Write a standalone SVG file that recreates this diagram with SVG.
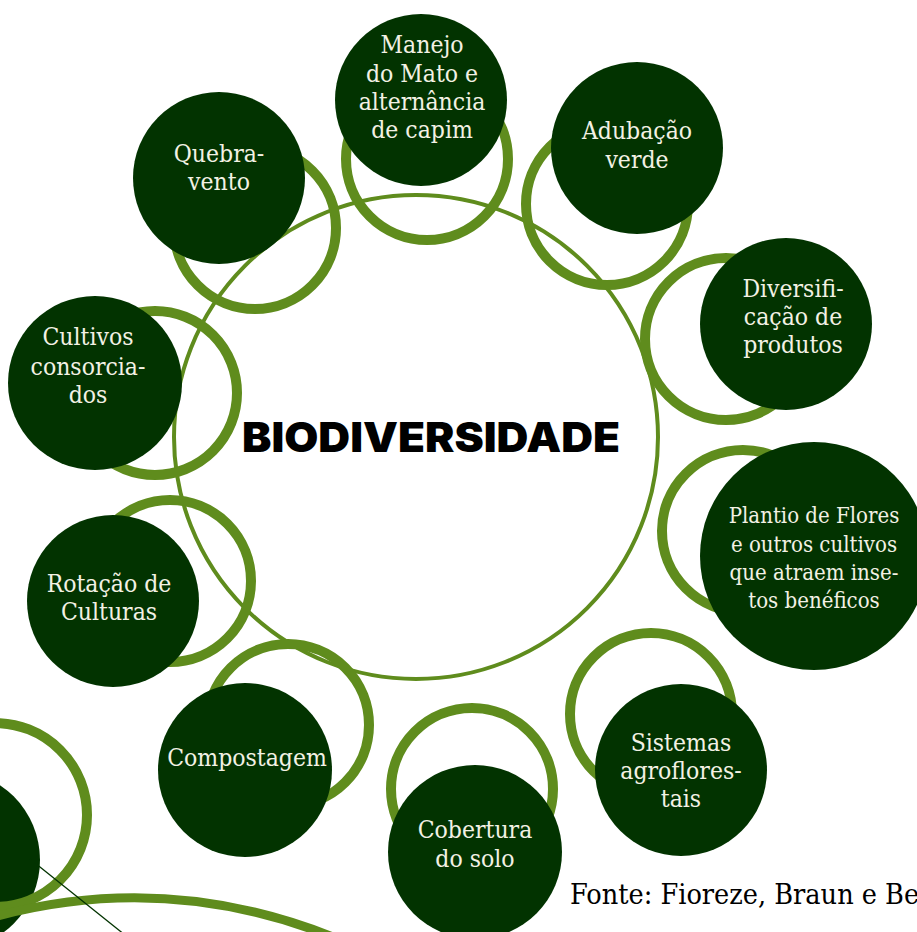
<svg xmlns="http://www.w3.org/2000/svg" width="917" height="932" viewBox="0 0 917 932">
<style>
.ring{fill:none;stroke:#5f8c1d;stroke-width:10}
.dot{fill:#023300}
.lbl{fill:#f3f1e4;font-family:"DejaVu Serif Condensed","DejaVu Serif",serif;font-stretch:condensed;font-size:24.5px;text-anchor:middle}
.sm{font-size:22px}
</style>
<rect width="917" height="932" fill="#ffffff"/>
<g id="connectors">
<circle cx="416" cy="437" r="242" fill="none" stroke="#5f8c1d" stroke-width="4"/>
</g>
<g id="center">
<text x="431" y="452" font-family="Inter,'Liberation Sans',sans-serif" font-weight="900" font-size="41" text-anchor="middle" textLength="378" lengthAdjust="spacingAndGlyphs" fill="#000">BIODIVERSIDADE</text>
</g>
<g id="manejo">
<circle class="ring" cx="427" cy="159" r="81"/>
<circle class="dot" cx="421" cy="100" r="86"/>
<text class="lbl" x="422" y="53">Manejo</text>
<text class="lbl" x="422" y="82">do Mato e</text>
<text class="lbl" x="422" y="110">alternância</text>
<text class="lbl" x="422" y="138">de capim</text>
</g>
<g id="quebra">
<circle class="ring" cx="255" cy="228" r="81"/>
<circle class="dot" cx="219" cy="178" r="86"/>
<text class="lbl" x="219" y="162">Quebra-</text>
<text class="lbl" x="219" y="190">vento</text>
</g>
<g id="adubacao">
<circle class="ring" cx="607" cy="204" r="81"/>
<circle class="dot" cx="637" cy="148" r="86"/>
<text class="lbl" x="637" y="139">Adubação</text>
<text class="lbl" x="637" y="168">verde</text>
</g>
<g id="diversificacao">
<circle class="ring" cx="726" cy="339" r="81"/>
<circle class="dot" cx="786" cy="324" r="86"/>
<text class="lbl" x="793" y="297">Diversifi-</text>
<text class="lbl" x="793" y="325">cação de</text>
<text class="lbl" x="793" y="353">produtos</text>
</g>
<g id="plantio">
<circle class="ring" cx="743" cy="531" r="81"/>
<circle class="dot" cx="814" cy="556" r="114"/>
<text class="lbl sm" x="814" y="523">Plantio de Flores</text>
<text class="lbl sm" x="814" y="552">e outros cultivos</text>
<text class="lbl sm" x="814" y="580">que atraem inse-</text>
<text class="lbl sm" x="814" y="608">tos benéficos</text>
</g>
<g id="sistemas">
<circle class="ring" cx="651" cy="714" r="81"/>
<circle class="dot" cx="681" cy="770" r="86"/>
<text class="lbl" x="681" y="751">Sistemas</text>
<text class="lbl" x="681" y="779">agroflores-</text>
<text class="lbl" x="681" y="807">tais</text>
</g>
<g id="cobertura">
<circle class="ring" cx="472" cy="789" r="81"/>
<circle class="dot" cx="475" cy="852" r="87"/>
<text class="lbl" x="475" y="838">Cobertura</text>
<text class="lbl" x="475" y="867">do solo</text>
</g>
<g id="compostagem">
<circle class="ring" cx="288" cy="725" r="81"/>
<circle class="dot" cx="245" cy="770" r="87"/>
<text class="lbl" x="247" y="766">Compostagem</text>
</g>
<g id="rotacao">
<circle class="ring" cx="170" cy="581" r="81"/>
<circle class="dot" cx="113" cy="601" r="86"/>
<text class="lbl" x="109" y="592">Rotação de</text>
<text class="lbl" x="109" y="620">Culturas</text>
</g>
<g id="cultivos">
<circle class="ring" cx="155" cy="393" r="82"/>
<circle class="dot" cx="95" cy="383" r="87"/>
<text class="lbl" x="88" y="345">Cultivos</text>
<text class="lbl" x="88" y="375">consorcia-</text>
<text class="lbl" x="88" y="403">dos</text>
</g>
<g id="partial-node">
<circle class="dot" cx="-50" cy="860" r="90"/>
<circle class="ring" cx="-5" cy="815" r="92"/>
<path d="M-10 918 Q170 868 345 942" fill="none" stroke="#5f8c1d" stroke-width="9"/>
<line x1="30" y1="859" x2="125" y2="935" stroke="#023300" stroke-width="1.3"/>
</g>
<text x="570" y="904" font-family="'DejaVu Serif Condensed','DejaVu Serif',serif" font-stretch="condensed" font-size="28.5" fill="#000">Fonte: Fioreze, Braun e Be</text>
</svg>
